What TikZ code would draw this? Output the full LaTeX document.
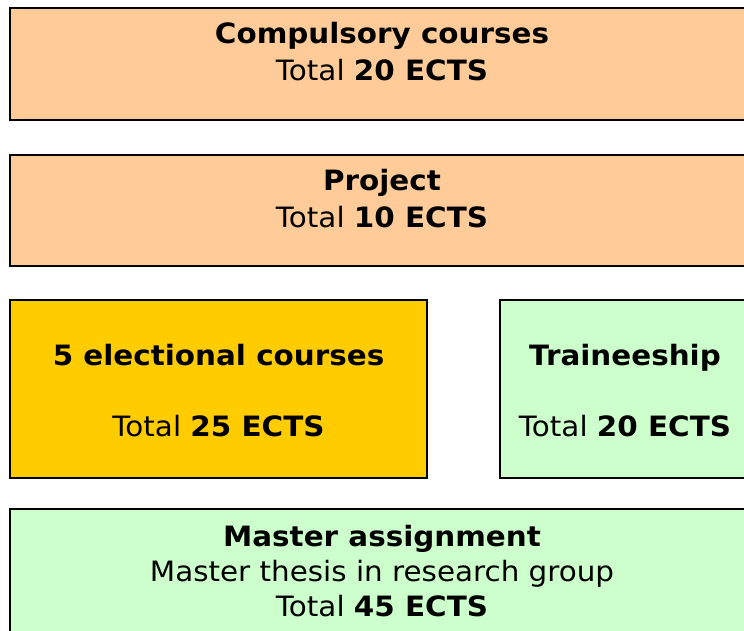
\documentclass[tikz,border=0pt]{standalone}
\usepackage{fontspec}
\setmainfont[FakeStretch=1.05]{DejaVu Sans}
\definecolor{peach}{HTML}{FFCC99}
\definecolor{gold}{HTML}{FFCC00}
\definecolor{mint}{HTML}{CCFFCC}
\begin{document}
\begin{tikzpicture}[x=1pt,y=-1pt,
  boxst/.style={draw=black,line width=1.1pt},
  txt/.style={anchor=base,inner sep=0pt,font=\fontsize{28}{32}\selectfont}]
\useasboundingbox (0,0) rectangle (744,630);
\clip (0,0) rectangle (744,630);
\fill[white] (0,0) rectangle (744,630);
% boxes
\draw[boxst,fill=peach] (10,8) rectangle (754,120);
\draw[boxst,fill=peach] (10,155) rectangle (754,266);
\draw[boxst,fill=gold] (10,300) rectangle (427,478);
\draw[boxst,fill=mint] (500,300) rectangle (754,478);
\draw[boxst,fill=mint] (10,509) rectangle (754,645);
% texts
\node[txt] (c1) at (382,43.3) {\bfseries Compulsory courses};
\node[txt] (c2) at (382,80.7) {Total \textbf{20 ECTS}};
\node[txt] (p1) at (382,190.3) {\bfseries Project};
\node[txt] (p2) at (382,227.7) {Total \textbf{10 ECTS}};
\node[txt] (e1) at (218.5,365.7) {\bfseries 5 electional courses};
\node[txt] (e2) at (218.5,436) {Total \textbf{25 ECTS}};
\node[txt] (t1) at (625,365.7) {\bfseries Traineeship};
\node[txt] (t2) at (625,436) {Total \textbf{20 ECTS}};
\node[txt] (m1) at (382,546) {\bfseries Master assignment};
\node[txt] (m2) at (382,581) {Master thesis in research group};
\node[txt] (m3) at (382,616) {Total \textbf{45 ECTS}};
\end{tikzpicture}
\end{document}
